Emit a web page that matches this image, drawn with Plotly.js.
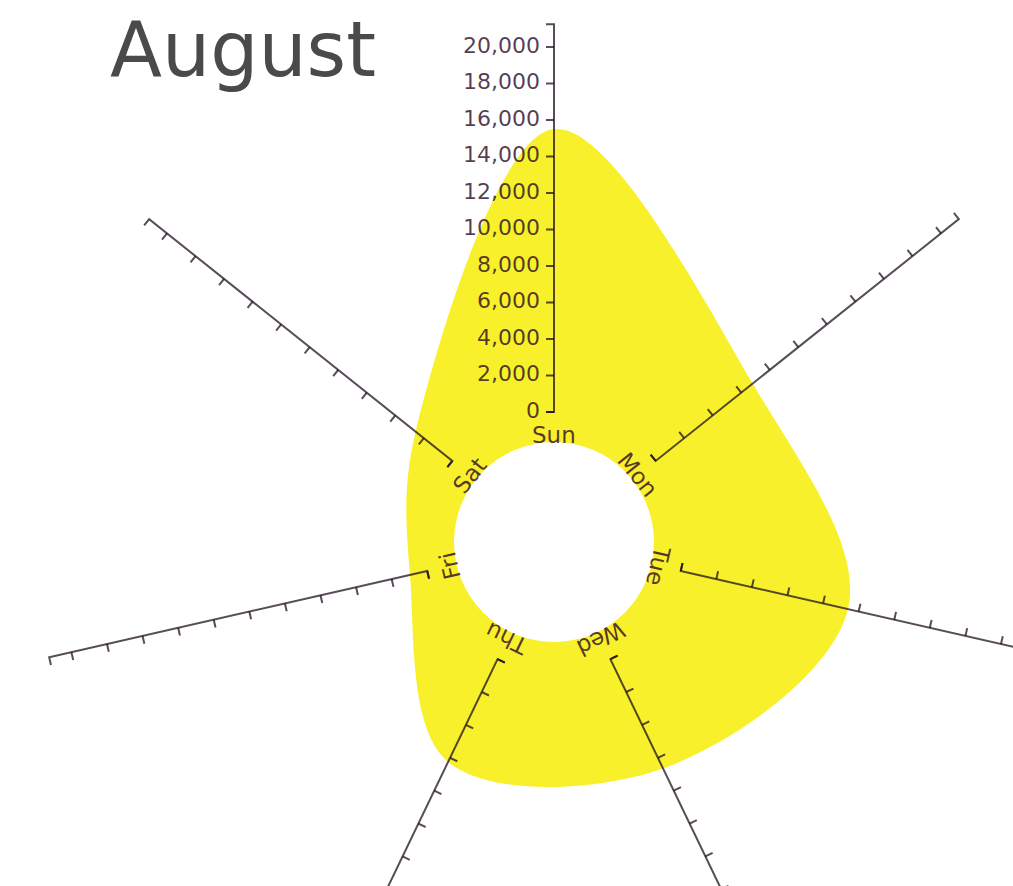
<!DOCTYPE html>
<html><head><meta charset="utf-8">
<script src="https://cdn.plot.ly/plotly-3.0.1.min.js"></script>
<style>html,body{margin:0;padding:0;background:#fff}#chart{width:1013px;height:886px}</style>
</head><body><div id="chart"></div>
<script>
// ---- data ----
const days = ['Sun', 'Mon', 'Tue', 'Wed', 'Thu', 'Fri', 'Sat'];
const augustValues = [15500, 6800, 9400, 6650, 6250, 970, 2575];
const tickValues = [0, 2000, 4000, 6000, 8000, 10000, 12000, 14000, 16000, 18000, 20000];
const tickLabels = ['0', '2,000', '4,000', '6,000', '8,000', '10,000', '12,000', '14,000', '16,000', '18,000', '20,000'];
const axisMax = 21250;

// ---- geometry / styles ----
const W = 1013, H = 886, CX = 554, CY = 542;
const PX = 1000 / 18.25;          // value units per pixel
const INNER = 130 * PX;           // radial offset of the value 0
const HOLE = 100 * PX;            // radius of the white centre
const TICK = 8 * PX;
const LABEL_R = 107 * PX;
const STEP = 2 * Math.PI / days.length;
const axisColor = 'rgba(28,14,30,0.74)';
const textColor = 'rgba(42,6,36,0.78)';

function ang(i) { return Math.PI / 2 - i * STEP; }
function pt(i, v, off) {
  const a = ang(i), r = INNER + v, o = off || 0;
  return [r * Math.cos(a) - o * Math.sin(a), r * Math.sin(a) + o * Math.cos(a)];
}

const traces = [];

// yellow area
const ax = [], ay = [];
augustValues.forEach((v, i) => { const p = pt(i, v); ax.push(p[0]); ay.push(p[1]); });
ax.push(ax[0]); ay.push(ay[0]);
traces.push({
  type: 'scatter', x: ax, y: ay, mode: 'lines',
  line: { shape: 'spline', smoothing: 1.0, width: 0, color: 'rgba(0,0,0,0)' },
  fill: 'toself', fillcolor: 'rgb(248,240,42)', hoverinfo: 'skip', showlegend: false
});

// radial axes with ticks
days.forEach((d, i) => {
  const xs = [], ys = [];
  const s0 = pt(i, 0, TICK), s1 = pt(i, 0), e1 = pt(i, axisMax), e0 = pt(i, axisMax, TICK);
  [s0, s1, e1, e0].forEach(p => { xs.push(p[0]); ys.push(p[1]); });
  xs.push(null); ys.push(null);
  tickValues.forEach(v => {
    const a = pt(i, v), b = pt(i, v, TICK);
    xs.push(a[0], b[0], null); ys.push(a[1], b[1], null);
  });
  traces.push({
    type: 'scatter', x: xs, y: ys, mode: 'lines',
    line: { color: axisColor, width: 2 }, hoverinfo: 'skip', showlegend: false
  });
});

// tick labels on the Sun axis
const lx = [], ly = [];
tickValues.forEach(v => { const p = pt(0, v, TICK + 6 * PX); lx.push(p[0]); ly.push(p[1]); });
traces.push({
  type: 'scatter', x: lx, y: ly, mode: 'text', text: tickLabels,
  textposition: 'middle left',
  textfont: { family: 'DejaVu Sans', size: 22, color: textColor },
  hoverinfo: 'skip', showlegend: false
});

// day labels
const annotations = days.map((d, i) => {
  const a = ang(i);
  return {
    x: LABEL_R * Math.cos(a), y: LABEL_R * Math.sin(a), xref: 'x', yref: 'y',
    text: d, showarrow: false, textangle: i * 360 / days.length,
    xanchor: 'center', yanchor: 'middle',
    font: { family: 'DejaVu Sans', size: 23, color: textColor }
  };
});

const layout = {
  width: W, height: H,
  margin: { l: 0, r: 0, t: 0, b: 0 },
  paper_bgcolor: '#fff', plot_bgcolor: '#fff',
  showlegend: false,
  title: {
    text: 'August', x: 110 / W, xanchor: 'left', xref: 'paper',
    y: 1 - 49 / H, yanchor: 'middle', yref: 'container',
    font: { family: 'DejaVu Sans', size: 76, color: '#4a4a4a' }
  },
  xaxis: { range: [-CX * PX, (W - CX) * PX], visible: false, fixedrange: true },
  yaxis: { range: [-(H - CY) * PX, CY * PX], visible: false, fixedrange: true },
  shapes: [{
    type: 'circle', xref: 'x', yref: 'y', layer: 'above',
    x0: -HOLE, x1: HOLE, y0: -HOLE, y1: HOLE,
    fillcolor: '#fff', line: { width: 0 }
  }],
  annotations: annotations
};

Plotly.newPlot('chart', traces, layout, { displayModeBar: false, staticPlot: true });
</script></body></html>
